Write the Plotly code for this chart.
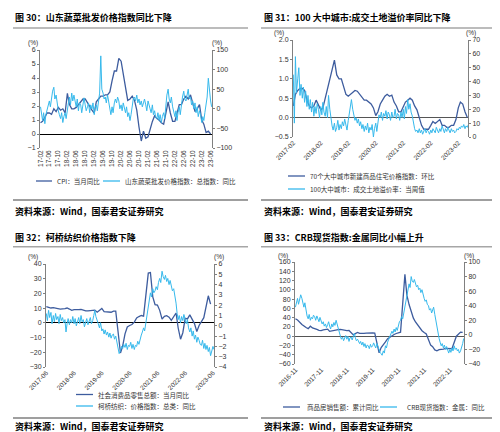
import pandas as pd
import plotly.graph_objects as go

W, H = 500, 432
DARK = '#3d5c9e'
LIGHT = '#36b9ec'

# ---------------- Panel 30: CPI vs Shandong vegetable wholesale price index ----------------
p1_cpi = [0.8, 0.9, 1.2, 1.5, 1.5, 1.4, 1.8, 1.6, 1.9, 1.7, 1.8,
          1.5, 2.9, 2.1, 1.8, 1.8, 1.9, 2.1, 2.3, 2.5, 2.5, 2.2, 1.9,
          1.7, 1.5, 2.3, 2.5, 2.7, 2.7, 2.8, 2.8, 3.0, 3.8, 4.5, 4.5,
          5.4, 5.2, 4.3, 3.3, 2.4, 2.5, 2.7, 2.4, 1.7, 0.5, -0.5, 0.2,
          -0.3, -0.2, 0.4, 0.9, 1.3, 1.1, 1.0, 0.8, 0.7, 1.5, 2.3, 1.5,
          0.9, 0.9, 1.5, 2.1, 2.1, 2.5, 2.7, 2.5, 2.8, 2.1, 1.6, 1.8,
          2.1, 1.0, 0.7, 0.1, 0.2, 0.0]
p1_veg = [5, -20, -30, -10, -38, -15, -5, 10, 20, 5, 30, 45, 55, 25, 35, 10, -5, -15, -25, -10, -35, -20,
          -10, -25, 5, 15, 30, 10, 40, 20, 35, 15, 5, 25, -5, 15, 10, -10, 20, 28, 10, -5, 5, 15, -10, 10,
          0, 15, -15, 5, 10, -5, 20, 40, 135, 50, 40, 25, 30, 15, 35, 20, 10, -15, 5, -10, 15, 25, 15, 30,
          20, 0, 10, -5, 15, 0, -10, 5, -20, -10, -30, -15, 10, 25, 30, 20, 35, 15, 25, 10, 20, 5, 15, 25,
          10, -5, 20, 5, 0, -10, 10, -15, -5, -20, -25, -10, -30, -15, -35, -20, -10, -25, 15, 35, 50, 25, 15, 30,
          5, -10, -20, -5, -30, -10, 5, -15, 15, 30, 45, 25, 20, 35, 50, 25, 30, 10, 20, 0, 15, -10, 5, -20,
          -5, -15, -35, -20, -30, -10, 10, 30, 78, 40, 20, 5]
p1_xticks = ["17-02", "17-06", "17-10", "18-02", "18-06", "18-10", "19-02", "19-06", "19-10",
             "20-02", "20-06", "20-10", "21-02", "21-06", "21-10", "22-02", "22-06", "22-10",
             "23-02", "23-06"]

# ---------------- Panel 31: 70-city new home prices vs 100-city land premium ----------------
p2_home = [0.3, 0.6, 0.7, 0.75, 0.75, 0.7, 0.45, 0.3, 0.25, 0.3, 0.45,
           0.3, 0.2, 0.25, 0.5, 0.75, 0.95, 1.2, 1.48, 1.1, 1.0, 1.0, 0.8,
           0.6, 0.55, 0.6, 0.65, 0.7, 0.68, 0.6, 0.5, 0.45, 0.45, 0.4, 0.35,
           0.25, 0.05, 0.15, 0.35, 0.45, 0.55, 0.6, 0.55, 0.58, 0.4, 0.3, 0.15,
           0.15, 0.3, 0.4, 0.45, 0.5, 0.45, 0.3, 0.2, 0.0, -0.2, -0.3, -0.3,
           -0.3, -0.2, -0.1, -0.15, -0.1, -0.05, -0.2, -0.2, -0.25, -0.25, -0.2, -0.2,
           -0.05, 0.25, 0.4, 0.35, 0.15, 0.0]
p2_land = [45, 10, 58, 32, 42, 50, 30, 38, 28, 36, 25, 33, 22, 30, 20, 27, 18, 25, 15, 22, 17, 24,
           20, 14, 22, 16, 25, 18, 15, 22, 14, 30, 20, 12, 8, 5, 10, 4, 7, 12, 5, 9, 6, 11, 8, 13,
           9, 5, 12, 18, 22, 27, 20, 15, 12, 14, 10, 13, 8, 11, 6, 9, 4, 8, 5, 10, 3, 7, 5, 9,
           0, 6, 10, 4, 12, 16, 14, 18, 12, 17, 15, 19, 13, 18, 16, 12, 18, 14, 15, 20, 13, 17, 16, 12,
           18, 14, 20, 13, 22, 17, 27, 20, 24, 18, 15, 10, 6, 4, 5, 3, 6, 3, 5, 2, 4, 6, 3, 5,
           4, 2, 5, 3, 6, 4, 3, 7, 5, 3, 6, 4, 8, 5, 3, 6, 4, 7, 5, 3, 6, 4, 5, 3,
           4, 6, 5, 7, 6, 8, 7, 9, 6, 8, 7, 9]
p2_xticks = ["2017-02", "2018-02", "2019-02", "2020-02", "2021-02", "2022-02", "2023-02"]

# ---------------- Panel 32: retail sales vs Keqiao textile price index ----------------
p3_retail = [11.0, 10.4, 10.1, 10.3, 10.0, 10.2, 9.4,
             None, 9.7, 10.1, 9.4, 8.5, 9.0, 8.8, 9.0, 9.2, 8.6, 8.1, 8.2,
             None, 8.2, 8.7, 7.2, 8.6, 9.8, 7.6, 7.5, 7.8, 7.2, 8.0, 8.0,
             None, -20.5, -15.8, -7.5, -2.8, -1.8, -1.1, 0.5, 3.3, 4.3, 5.0, 4.6,
             None, 33.8, 34.2, 17.7, 12.4, 12.1, 8.5, 2.5, 4.4, 4.9, 3.9, 1.7,
             None, 6.7, -3.5, -11.1, -6.7, 3.1, 2.7, 5.4, 2.5, -0.5, -5.9, -1.8,
             None, 3.5, 10.6, 18.4, 12.7]
p3_keqiao = [1.2, 0.5, 1.5, 0.8, 1.3, 0.2, 1.0, 0.4, 1.2, 0.6, 0.9, 0.2, 1.1, 0.5,
             0.8, 0.3, 0.6, -0.6, 0.2, 0.7, 0.1, 0.6, 0.3, 0.9, 0.2, 0.7, 0.0, 0.5, 0.8, 0.2, 1.0, 0.4, 0.6, -0.1, 0.3, 0.7, 0.1, 0.5,
             0.8, 0.2, 0.5, 1.0, 1.5, 0.9, 0.6, 0.2, -0.2, 0.3, -0.5, -0.3, -0.8, -0.4, -0.9, -0.6, -1.1, -0.7, -1.2, -0.9, -0.8, -1.3, -1.0, -1.5,
             -2.0, -2.7, -2.4, -2.0, -2.2, -1.8, -2.1, -1.7, -2.3, -1.9, -2.0, -1.6, -2.2, -1.8, -2.3, -1.9, -2.0, -1.5, -1.8, -1.2, -0.9, -0.6, -0.2, -0.5,
             0.3, 1.0, 1.8, 2.5, 3.2, 2.8, 3.6, 3.2, 3.4, 3.8, 3.5, 4.2, 4.6, 4.2, 5.3, 4.8, 4.5, 4.9, 4.3, 4.6, 4.0, 4.4, 3.8, 3.4,
             3.6, 3.0, 2.2, 1.2, 0.6, 1.0, 0.3, 0.9, 0.5, 1.1, 0.7, 0.2, 0.6, -0.2, -0.6, -0.2, -1.0, -0.5, -1.3, -0.9, -1.6, -1.1, -1.4, -1.8,
             -1.9, -1.4, -2.2, -1.7, -2.3, -1.9, -2.5, -2.1, -2.9, -2.4, -2.0, -2.3]
p3_xticks = ["2017-06", "2018-06", "2019-06", "2020-06", "2021-06", "2022-06", "2023-06"]

# ---------------- Panel 33: housing sales vs CRB spot metals ----------------
p4_sales = [37.5, 34.8,
            None, 25.4, 21.5, 18.6, 16.2, 21.5, 17.7, 15.3, 14.6, 12.6, 12.2, 13.7,
            None, 15.3, 10.4, 11.5, 13.2, 13.2, 14.1, 14.5, 13.3, 13.1, 12.1, 12.2,
            None, 2.8, 5.6, 8.1, 6.1, 5.6, 6.2, 6.7, 7.1, 7.3, 7.3, 6.5,
            None, -35.9, -24.7, -19.3, -12.3, -5.4, -2.1, 1.6, 3.7, 5.8, 7.2, 8.7,
            None, 133.4, 88.5, 68.2, 52.4, 38.9, 30.7, 24.0, 16.6, 11.8, 8.0, 4.8,
            None, -19.3, -22.7, -29.5, -31.5, -28.9, -28.8, -27.9, -26.3, -26.1, -26.6, -26.7,
            None, -0.1, 4.1, 8.8, 8.4]
p4_crb = [38, 45, 50, 42,
          48, 55, 50, 42, 38, 44, 32, 26, 22, 28, 20, 24, 22, 27, 25, 20, 26, 22, 18, 24, 20, 15, 18, 12,
          15, 10, 14, 18, 12, 8, 15, 11, 17, 13, 20, 14, 10, 2, -2, -6, -3, -8, -5, -1, -6, -2, -9, -4,
          -3, -7, -2, 2, -4, -8, -6, -10, -12, -9, -14, -10, -16, -12, -18, -14, -15, -19, -13, -17, -15, -11, -14, -18,
          -12, -16, -20, -24, -26, -28, -22, -25, -15, -18, -10, -6, -3, 2, 5, 2, 8, 4, 10, 6, 14, 18, 20, 25,
          22, 30, 35, 42, 50, 60, 70, 65, 80, 74, 72, 76, 70, 66, 68, 62, 64, 58, 62, 55, 50, 46, 48, 42,
          40, 34, 36, 30, 33, 38, 28, 20, 10, 0, -5, -10, -15, -12, -18, -14, -20, -16, -22, -25, -20, -24, -18, -22,
          -15, -20, -18, -22, -20, -25, -22, -18, -12, -5]
p4_xticks = ["2016-11", "2017-11", "2018-11", "2019-11", "2020-11", "2021-11", "2022-11"]

titles = ["图 30：山东蔬菜批发价格指数同比下降", "图 31：100 大中城市:成交土地溢价率同比下降",
          "图 32：柯桥纺织价格指数下降", "图 33：CRB现货指数:金属同比小幅上升"]
source = "资料来源：Wind，国泰君安证券研究"
names = ["CPI：当月同比", "山东蔬菜批发价格指数：总指数：同比",
         "70个大中城市新建商品住宅价格指数：环比", "100大中城市：成交土地溢价率：当周值",
         "社会消费品零售总额：当月同比", "柯桥纺织：价格指数：总类：同比",
         "商品房销售额：累计同比", "CRB现货指数：金属：同比"]


def px(x):
    return x / W


def py(y):
    return 1 - y / H


fig = go.Figure()


def add(x, y, xa, ya, color, width, name):
    fig.add_trace(go.Scatter(x=x, y=y, mode='lines', xaxis=xa, yaxis=ya, name=name, showlegend=False,
                             line=dict(color=color, width=width), connectgaps=True, hoverinfo='skip'))


add(pd.date_range('2017-02-01', periods=len(p1_cpi), freq='MS'), p1_cpi, 'x', 'y', DARK, 1.3, names[0])
add(pd.date_range('2017-02-01', periods=len(p1_veg), freq='SMS'), p1_veg, 'x', 'y2', LIGHT, 1.0, names[1])
add(pd.date_range('2017-02-01', periods=len(p2_home), freq='MS'), p2_home, 'x2', 'y3', DARK, 1.3, names[2])
add(pd.date_range('2017-02-01', periods=len(p2_land), freq='SMS'), p2_land, 'x2', 'y4', LIGHT, 1.0, names[3])
add(pd.date_range('2017-06-01', periods=len(p3_retail), freq='MS'), p3_retail, 'x3', 'y5', DARK, 1.3, names[4])
add(pd.date_range('2017-06-01', periods=len(p3_keqiao), freq='SMS'), p3_keqiao, 'x3', 'y6', LIGHT, 1.0, names[5])
add(pd.date_range('2016-11-01', periods=len(p4_sales), freq='MS'), p4_sales, 'x4', 'y7', DARK, 1.3, names[6])
add(pd.date_range('2016-11-01', periods=len(p4_crb), freq='SMS'), p4_crb, 'x4', 'y8', LIGHT, 1.0, names[7])

NUM = 'Liberation Sans, Arial, sans-serif'
CJK = 'Noto Sans CJK SC, sans-serif'
tickfont = dict(family=NUM, size=7, color='#333333')
xtickfont = dict(family=NUM, size=6.5, color='#333333')
AX = '#808080'


def xax(dom, anchor, rng, ticks, vals, angle):
    return dict(domain=dom, anchor=anchor, type='date', range=rng, tickvals=vals, ticktext=ticks,
                tickangle=angle, tickfont=xtickfont, showline=False, showgrid=False, zeroline=False,
                ticks='', fixedrange=True, automargin=False)


def yax(rng, dtick, anchor, dom=None, side='left', overlaying=None, zero=False, zc='#000000', fmt=None):
    d = dict(range=rng, dtick=dtick, tick0=0, anchor=anchor, side=side, showline=True, linecolor=AX,
             linewidth=1, ticks='outside', ticklen=2, tickcolor=AX, tickfont=tickfont, showgrid=False,
             zeroline=zero, zerolinecolor=zc, zerolinewidth=1.1, fixedrange=True, automargin=False)
    if dom is not None:
        d['domain'] = dom
    if overlaying is not None:
        d['overlaying'] = overlaying
    if fmt is not None:
        d['tickformat'] = fmt
    return d


fig.update_layout(
    xaxis=xax([px(32), px(204)], 'y', ['2017-01-25', '2023-06-20'], p1_xticks,
              ['20' + t + '-01' for t in p1_xticks], -90),
    yaxis=yax([-1, 6], 1, 'x', dom=[py(140), py(42)], zero=True),
    yaxis2=yax([-100, 150], 50, 'x', side='right', overlaying='y'),
    xaxis2=xax([px(285), px(460)], 'y3', ['2017-01-28', '2023-06-10'], p2_xticks,
               [t + '-01' for t in p2_xticks], -45),
    yaxis3=yax([-0.5, 2.0], 0.5, 'x2', dom=[py(129), py(32)], zero=True, zc='#555555', fmt='.1f'),
    yaxis4=yax([0, 70], 10, 'x2', side='right', overlaying='y3'),
    xaxis3=xax([px(38), px(206)], 'y5', ['2017-05-28', '2023-06-15'], p3_xticks,
               [t + '-01' for t in p3_xticks], -45),
    yaxis5=yax([-30, 40], 10, 'x3', dom=[py(359), py(256)], zero=True),
    yaxis6=yax([-4, 6], 1, 'x3', side='right', overlaying='y5'),
    xaxis4=xax([px(287), px(456)], 'y7', ['2016-10-26', '2023-05-20'], p4_xticks,
               [t + '-01' for t in p4_xticks], -45),
    yaxis7=yax([-60, 160], 20, 'x4', dom=[py(356), py(254)], zero=True, zc='#555555'),
    yaxis8=yax([-40, 100], 20, 'x4', side='right', overlaying='y7'),
)

ann = []
shapes = []

# legend keys: (line start, line end, text start, row y, colour, name)
legend_keys = [(28, 44, 47, 173, DARK, names[0]), (95, 112, 115, 173, LIGHT, names[1]),
               (280, 297, 300, 168, DARK, names[2]), (280, 297, 300, 181, LIGHT, names[3]),
               (68, 85, 88, 386.5, DARK, names[4]), (68, 85, 88, 398, LIGHT, names[5]),
               (275, 292, 297, 399, DARK, names[6]), (372, 389, 397, 399, LIGHT, names[7])]
for (l0, l1, tx, ly, col, nm) in legend_keys:
    shapes.append(dict(type='line', xref='paper', yref='paper', x0=px(l0), x1=px(l1), y0=py(ly), y1=py(ly),
                       line=dict(color=col, width=1.3)))
    ann.append(dict(text=nm, x=px(tx), y=py(ly), xref='paper', yref='paper', xanchor='left', yanchor='middle',
                    showarrow=False, font=dict(family=CJK, size=6.5, color='#333333')))

for (tx, ty, sy_top, sy_bot, src_y, t) in [(5, 10, 20, 192, 203, titles[0]), (254, 10, 20, 192, 203, titles[1]),
                                           (5, 229, 238.7, 410, 418, titles[2]), (254, 229, 238.7, 410, 418, titles[3])]:
    ann.append(dict(text=t, x=px(tx), y=py(ty), xref='paper', yref='paper', xanchor='left', yanchor='middle',
                    showarrow=False, font=dict(family=CJK, size=9, color='#000000', weight='bold')))
    ann.append(dict(text=source, x=px(tx), y=py(src_y), xref='paper', yref='paper', xanchor='left',
                    yanchor='middle', showarrow=False, font=dict(family=CJK, size=9, color='#000000', weight='bold')))
    x0, x1 = (5, 240) if tx < 100 else (253, 490)
    shapes.append(dict(type='line', xref='paper', yref='paper', x0=px(x0), x1=px(x1), y0=py(sy_top), y1=py(sy_top),
                       line=dict(color='#a6a6a6', width=1.5)))
    shapes.append(dict(type='line', xref='paper', yref='paper', x0=px(x0), x1=px(x1), y0=py(sy_bot), y1=py(sy_bot),
                       line=dict(color='#404040', width=1.2)))

for (ux, uy) in [(25, 35), (209, 35), (271, 25), (463, 25), (25, 249), (211, 249), (275, 248), (461, 248)]:
    ann.append(dict(text='(%)', x=px(ux), y=py(uy), xref='paper', yref='paper', xanchor='center', yanchor='middle',
                    showarrow=False, font=dict(family=NUM, size=6.5, color='#333333')))

fig.update_layout(annotations=ann, shapes=shapes, width=W, height=H, autosize=False,
                  margin=dict(l=0, r=0, t=0, b=0), paper_bgcolor='white', plot_bgcolor='white',
                  showlegend=False, font=dict(family=CJK))

fig.write_html("out.html", config={'displayModeBar': False})
